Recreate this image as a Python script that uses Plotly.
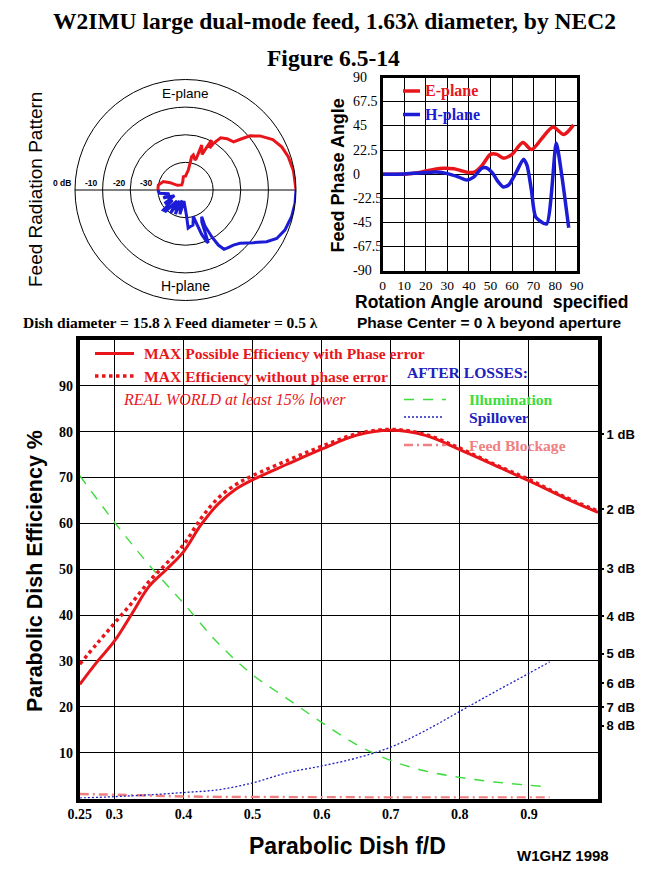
import plotly.graph_objects as go

W, H = 661, 880


def X(p):
    return p / W


def Y(p):
    return 1 - p / H


SERIF = "Liberation Serif"
SANS = "Liberation Sans"
RED = "#e8161b"
BLUE = "#1c1cd6"
GREEN = "#3ddc3d"
DBLUE = "#2020c0"
PINK = "#f08080"

# ---------------- data ----------------
# Feed radiation pattern (polar, dB)
E_theta = [0, 10, 18, 24, 30, 36, 40, 43, 45, 51, 56, 59, 60, 62.4, 63.6, 65, 70.2, 71, 72.4,
           77.4, 79.5, 80.4, 82, 90, 99, 110, 127, 150, 154.7, 159, 169.6, 180]
E_db = [0, -0.3, -0.9, -1.8, -3.5, -6.7, -9.5, -13.2, -15.4, -16.1, -17.2, -20.3, -22.5, -19.6,
        -22.8, -25.8, -22.7, -27.8, -28.6, -27.0, -27.7, -30.2, -32.7, -35.0, -35.1, -37.0,
        -37.7, -36.6, -33.8, -31.4, -30.0, -30.0]

H_theta = [0, 7, 14, 22, 28, 32.5, 37.8, 44.4, 49, 53, 57, 59.2, 60.7, 61.6, 58.8, 63, 66.6,
           67.7, 70, 73.6, 78, 83, 86, 88, 92, 98, 103, 108, 113, 118, 123, 128, 133, 138,
           142, 147, 153, 160, 167, 173, 180]
H_db = [0, -0.05, -0.4, -1.2, -2.6, -5.2, -8.9, -12.4, -13.6, -14.0, -14.4, -16.8, -20.6,
        -25.2, -28.7, -27.0, -19.2, -19.8, -23.0, -30.0, -27.0, -26.6, -26.2, -31.0, -34.0,
        -36.0, -31.0, -36.0, -30.5, -35.5, -30.0, -35.0, -29.5, -29.2, -34.0, -31.0, -35.5,
        -31.5, -34.0, -30.5, -30.0]

ring_db = [-30, -20, -10, 0]
ring_labels = ["-30", "-20", "-10", "0 dB"]

# Feed phase angle
phE_angle = [0, 10, 17, 20, 28, 33, 36, 40, 43, 46, 50, 53, 56, 60, 65, 69, 74.5, 79, 84, 88.5]
phE = [0, 0, 1.5, 3, 5.5, 5, 3.5, 1.5, 2.5, 8, 18.5, 18.5, 15, 18.5, 29.5, 23, 35, 44, 37, 46]
phH_angle = [0, 10, 20, 25, 30, 35, 39, 42, 46, 48, 51, 53.5, 56, 58.5, 62, 65.3, 67, 69, 71,
             76, 80.5, 83, 86.3]
phH = [0, 0.3, 1.5, 2, 0.5, -2.5, -5.5, -3, 5.5, 6, 1, -7, -12, -10, 2, 14, 8, -15, -40,
       -46.5, 29, 0, -50]
ph_xticks = [0, 10, 20, 30, 40, 50, 60, 70, 80, 90]
ph_yticks = [90, 67.5, 45, 22.5, 0, -22.5, -45, -67.5, -90]
ph_ylabels = ["90", "67.5", "45", "22.5", "0", "-22.5", "-45", "-67.5", "-90"]

# Main efficiency chart
fD = [0.25, 0.275, 0.3, 0.325, 0.35, 0.375, 0.4, 0.425, 0.45, 0.475, 0.5, 0.55, 0.6, 0.65,
      0.7, 0.75, 0.8, 0.85, 0.9, 0.95, 1.0]
eff_with_phase = [24.9, 29.8, 34.3, 40.2, 46.2, 49.9, 53.8, 59.6, 64.2, 67.4, 69.5, 72.9,
                  76.2, 79.2, 80.3, 79.2, 76.1, 72.7, 69.3, 65.7, 62.4]
eff_no_phase = [29.3, 33.8, 38.2, 42.6, 47.3, 51.2, 55.3, 61.0, 65.5, 68.4, 70.4, 73.7,
                76.8, 79.5, 80.5, 79.4, 76.4, 72.9, 69.6, 65.9, 62.7]
fD_loss = [0.25, 0.3, 0.35, 0.4, 0.45, 0.5, 0.55, 0.6, 0.65, 0.7, 0.75, 0.8, 0.85, 0.9, 0.93]
illumination = [70.4, 60.3, 51.0, 42.6, 33.9, 27.0, 21.8, 16.6, 11.8, 8.3, 6.0, 4.6, 3.6,
                2.9, 2.5]
spillover = [0.1, 0.4, 0.8, 1.3, 1.9, 3.4, 5.6, 7.1, 8.8, 11.2, 14.8, 19.0, 23.2, 27.3, 29.8]
blockage = [1.0, 0.8, 0.55, 0.45, 0.35, 0.3, 0.25, 0.22, 0.2, 0.2, 0.2, 0.2, 0.2, 0.2, 0.2]

main_xticks = [0.25, 0.3, 0.4, 0.5, 0.6, 0.7, 0.8, 0.9]
main_xlabels = ["0.25", "0.3", "0.4", "0.5", "0.6", "0.7", "0.8", "0.9"]
main_yticks = [10, 20, 30, 40, 50, 60, 70, 80, 90]
loss_db = [1, 2, 3, 4, 5, 6, 7, 8]
loss_db_pct = [100 * 10 ** (-d / 10) for d in loss_db]
loss_db_labels = [f"{d} dB" for d in loss_db]

# ---------------- figure ----------------
fig = go.Figure()

# polar pattern
fig.add_trace(go.Scatterpolar(r=E_db, theta=E_theta, mode="lines", subplot="polar",
                              line=dict(color=RED, width=3), showlegend=False))
fig.add_trace(go.Scatterpolar(r=H_db, theta=[-t for t in H_theta], mode="lines",
                              subplot="polar", line=dict(color=BLUE, width=3),
                              showlegend=False))

# phase plot
fig.add_trace(go.Scatter(x=phE_angle, y=phE, xaxis="x", yaxis="y", mode="lines",
                         line=dict(color=RED, width=3.5, shape="spline", smoothing=0.8),
                         showlegend=False))
fig.add_trace(go.Scatter(x=phH_angle, y=phH, xaxis="x", yaxis="y", mode="lines",
                         line=dict(color=BLUE, width=3.5, shape="spline", smoothing=0.6),
                         showlegend=False))

# main chart
fig.add_trace(go.Scatter(x=fD_loss, y=blockage, xaxis="x2", yaxis="y2", mode="lines",
                         line=dict(color=PINK, width=2.5, dash="9px,4px,2px,4px"),
                         showlegend=False))
fig.add_trace(go.Scatter(x=fD_loss, y=illumination, xaxis="x2", yaxis="y2", mode="lines",
                         line=dict(color=GREEN, width=1.4, dash="10px,9px", shape="spline"),
                         showlegend=False))
fig.add_trace(go.Scatter(x=fD_loss, y=spillover, xaxis="x2", yaxis="y2", mode="lines",
                         line=dict(color=DBLUE, width=1.3, dash="2px,2px", shape="spline"),
                         showlegend=False))
fig.add_trace(go.Scatter(x=fD, y=eff_no_phase, xaxis="x2", yaxis="y2", mode="lines",
                         line=dict(color=RED, width=3.5, dash="dot", shape="spline"),
                         showlegend=False))
fig.add_trace(go.Scatter(x=fD, y=eff_with_phase, xaxis="x2", yaxis="y2", mode="lines",
                         line=dict(color=RED, width=3, shape="spline"), showlegend=False))
# invisible trace so the right-hand dB axis is drawn
fig.add_trace(go.Scatter(x=[0.25], y=[0], xaxis="x2", yaxis="y3", mode="markers",
                         marker=dict(opacity=0), showlegend=False, hoverinfo="skip"))

grid = dict(showgrid=True, gridcolor="black", gridwidth=1.3, zeroline=False,
            showline=True, linecolor="black", mirror=True, ticks="", automargin=False)

fig.update_layout(
    width=W, height=H, margin=dict(l=0, r=0, t=0, b=0, pad=0, autoexpand=False),
    paper_bgcolor="white", plot_bgcolor="white", showlegend=False,
    polar=dict(
        domain=dict(x=[X(75), X(296)], y=[Y(300.5), Y(79.5)]),
        bgcolor="white",
        radialaxis=dict(range=[-40, 0], tickvals=ring_db, showticklabels=False, ticks="",
                        showline=False, gridcolor="black", gridwidth=1),
        angularaxis=dict(tickvals=[0, 180], showticklabels=False, ticks="",
                         gridcolor="black", gridwidth=1.3, linecolor="black", linewidth=1,
                         direction="counterclockwise", rotation=0),
    ),
    xaxis=dict(domain=[X(382.7), X(576.7)], range=[0, 90], anchor="y", tickvals=ph_xticks,
               linewidth=3, tickfont=dict(family=SERIF, size=13.5, color="black"), **grid),
    yaxis=dict(domain=[Y(270.7), Y(77.7)], range=[-90, 90], anchor="x", tickvals=ph_yticks,
               showticklabels=False, linewidth=3, **grid),
    xaxis2=dict(domain=[X(79.8), X(598)], range=[0.25, 1.0], anchor="y2",
                tickvals=main_xticks, ticktext=main_xlabels, linewidth=4,
                tickfont=dict(family=SERIF, size=14, color="black", weight="bold"), **grid),
    yaxis2=dict(domain=[Y(798.5), Y(340)], range=[0, 100], anchor="x2",
                tickvals=main_yticks, linewidth=4,
                tickfont=dict(family=SERIF, size=14, color="black", weight="bold"), **grid),
    yaxis3=dict(overlaying="y2", side="right", anchor="x2", range=[0, 100],
                tickvals=loss_db_pct, ticktext=loss_db_labels, ticks="outside", ticklen=5,
                tickwidth=1.5, tickcolor="black", showgrid=False, showline=False,
                zeroline=False, automargin=False,
                tickfont=dict(family=SANS, size=13, color="black", weight="bold")),
)

ann = []


def text(x, y, s, size, color="black", family=SERIF, bold=False, italic=False,
         anchor="left", angle=0, yref="paper", ypx=True):
    ann.append(dict(
        x=X(x), y=Y(y) if ypx else y, xref="paper", yref=yref, text=s, showarrow=False,
        xanchor=anchor, yanchor="middle", textangle=angle,
        font=dict(family=family, size=size, color=color,
                  weight="bold" if bold else "normal",
                  style="italic" if italic else "normal")))


# titles
text(334, 21, "W2IMU large dual-mode feed, 1.63λ diameter, by NEC2", 23.5, bold=True,
     anchor="center")
text(333, 58, "Figure 6.5-14", 23.5, bold=True, anchor="center")
text(21, 322.5, "Dish diameter = 15.8 λ Feed diameter = 0.5 λ", 15.5, bold=True)

# polar labels
text(35, 190, "Feed Radiation Pattern", 19, family=SANS, anchor="center", angle=-90)
text(185.5, 93, "E-plane", 13.5, family=SANS, anchor="center")
text(185.5, 286, "H-plane", 14, family=SANS, anchor="center")
for db, lab in zip(ring_db, ring_labels):
    rx = 185.5 - 110.5 * (1 + db / 40.0)
    text(rx - 2.5, 183.5, lab, 8.5, family=SANS, bold=True, anchor="right")

# phase plot labels
text(337, 175.5, "Feed Phase Angle", 18, family=SANS, bold=True, anchor="center", angle=-90)
text(353, 302, "Rotation Angle around  specified", 17.5, family=SANS, bold=True)
text(355, 322, "Phase Center = 0 λ beyond aperture", 15.5, family=SANS, bold=True)
for v, lab in zip(ph_yticks, ph_ylabels):
    text(351, v, lab, 14, yref="y", ypx=False)
text(423, 91, "E-plane", 16, color=RED, bold=True)
text(423, 114.5, "H-plane", 16, color=BLUE, bold=True)

# main chart labels
text(35, 571, "Parabolic Dish Efficiency %", 21.5, family=SANS, bold=True, anchor="center",
     angle=-90)
text(347, 846, "Parabolic Dish f/D", 23, family=SANS, bold=True, anchor="center")
text(563, 855, "W1GHZ 1998", 15, family=SANS, bold=True, anchor="center")
text(142, 353.5, "MAX Possible Efficiency with Phase error", 15.6, color=RED, bold=True)
text(142, 376, "MAX Efficiency without phase error", 15.6, color=RED, bold=True)
text(121, 399.5, "REAL WORLD at least 15% lower", 16, color=RED, italic=True)
text(405, 372, "AFTER LOSSES:", 15.6, color=DBLUE, bold=True)
text(467, 399.5, "Illumination", 15.6, color=GREEN, bold=True)
text(467, 417, "Spillover", 15.6, color=DBLUE, bold=True)
text(467, 445, "Feed Blockage", 15.6, color=PINK, bold=True)

shapes = []


def sample(x0, x1, y, color, width, dash="solid"):
    shapes.append(dict(type="line", xref="paper", yref="paper", x0=X(x0), x1=X(x1),
                       y0=Y(y), y1=Y(y), line=dict(color=color, width=width, dash=dash)))


sample(95, 134, 353.5, RED, 3)
sample(95, 134, 376, RED, 3.5, "dot")
sample(404, 446, 399.5, GREEN, 1.4, "10px,9px")
sample(404, 444, 417, DBLUE, 1.3, "2px,2px")
sample(404, 446, 445, PINK, 2.5, "9px,4px,2px,4px")
sample(403, 420, 91, RED, 3.5)
sample(403, 420, 114.5, BLUE, 3.5)

fig.update_layout(annotations=ann, shapes=shapes)
fig.write_html(
    "out.html",
    config={"displayModeBar": False},
    post_script="document.body.style.margin='0';document.body.style.padding='0';"
                "document.documentElement.style.overflow='hidden';",
)
